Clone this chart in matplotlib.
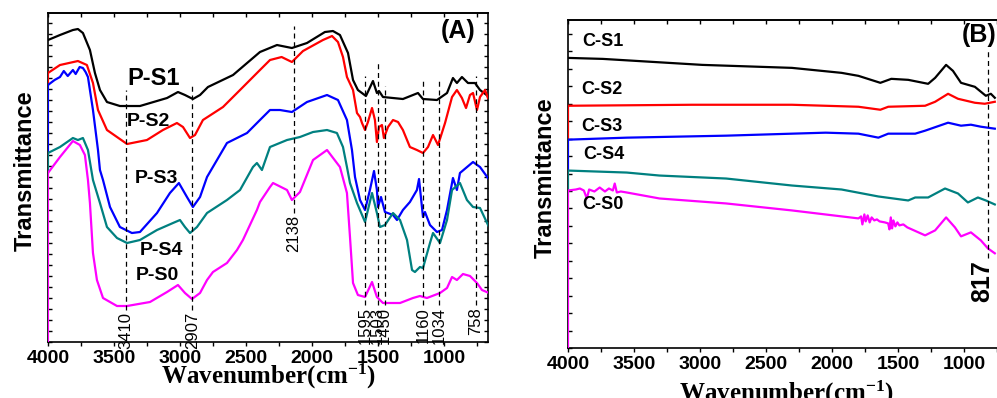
import numpy as np
import matplotlib
matplotlib.use('Agg')
import matplotlib.pyplot as plt
from matplotlib.ticker import MultipleLocator, NullFormatter

plt.rcParams['font.family'] = 'Liberation Sans'
plt.rcParams['font.weight'] = 'bold'
plt.rcParams['mathtext.fontset'] = 'custom'
plt.rcParams['mathtext.rm'] = 'Liberation Serif:bold'
plt.rcParams['mathtext.it'] = 'Liberation Serif:bold'
plt.rcParams['mathtext.bf'] = 'Liberation Serif:bold'

# ---- panel (A) : P-series, transmittance in arbitrary units ----
ps1_wn = [4000, 3909, 3811, 3773, 3735, 3682, 3644, 3606, 3553, 3455, 3303, 3098, 3015, 2962, 2902,
          2848, 2788, 2598, 2394, 2265, 2152, 2038, 1902, 1841, 1788, 1727, 1689, 1652, 1591, 1538,
          1508, 1492, 1462, 1311, 1197, 1159, 1053, 977, 932, 902, 864, 818, 765, 727, 667]
ps1_t = [302, 307, 312, 313, 309, 292, 269, 252, 240, 236, 236, 244, 250, 247, 243,
         247, 255, 267, 290, 297, 294, 299, 310, 311, 307, 289, 262, 252, 246, 261,
         249, 251, 245, 243, 249, 243, 242, 249, 264, 259, 265, 259, 259, 252, 246]

ps2_wn = [4000, 4000, 3909, 3773, 3705, 3659, 3621, 3553, 3401, 3250, 3129, 3023, 2977, 2924, 2886,
          2826, 2674, 2545, 2394, 2318, 2230, 2152, 2068, 1917, 1848, 1803, 1765, 1735, 1689, 1659,
          1636, 1621, 1598, 1576, 1545, 1523, 1508, 1492, 1470, 1455, 1424, 1386, 1348, 1311, 1258,
          1205, 1159, 1121, 1083, 1045, 992, 939, 902, 864, 833, 803, 780, 750, 727, 689, 667]
ps2_t = [257, 269, 277, 281, 277, 259, 232, 212, 198, 202, 212, 219, 215, 204, 207,
         222, 235, 252, 272, 282, 285, 280, 291, 302, 306, 300, 285, 265, 252, 229,
         225, 219, 212, 220, 234, 222, 200, 215, 217, 204, 215, 222, 220, 212, 195,
         192, 189, 195, 207, 197, 219, 245, 252, 244, 234, 247, 249, 232, 245, 252, 244]

ps3_wn = [4000, 4000, 3950, 3909, 3880, 3850, 3811, 3790, 3760, 3735, 3715, 3697, 3659, 3621, 3606,
          3583, 3530, 3455, 3364, 3303, 3174, 3076, 3008, 2947, 2902, 2848, 2795, 2644, 2492, 2394,
          2318, 2242, 2152, 2038, 1886, 1803, 1735, 1697, 1674, 1636, 1598, 1561, 1530, 1508, 1500,
          1477, 1447, 1386, 1356, 1311, 1258, 1205, 1189, 1159, 1144, 1106, 1053, 1015, 977, 932,
          902, 879, 780, 727, 667]
ps3_t = [189, 257, 262, 265, 271, 266, 272, 268, 275, 274, 270, 265, 232, 192, 172,
         162, 135, 115, 109, 110, 129, 149, 159, 145, 135, 145, 165, 199, 209, 222,
         232, 232, 230, 240, 247, 242, 222, 192, 165, 142, 132, 152, 171, 152, 135,
         145, 130, 127, 122, 132, 140, 152, 163, 125, 130, 117, 110, 112, 132, 164,
         152, 169, 180, 175, 164]

ps4_wn = [4000, 4000, 3909, 3811, 3773, 3735, 3697, 3659, 3606, 3553, 3477, 3401, 3303, 3174, 3053,
          3000, 2962, 2924, 2871, 2795, 2644, 2545, 2447, 2417, 2379, 2318, 2189, 2091, 1992, 1886,
          1811, 1765, 1735, 1712, 1659, 1598, 1545, 1508, 1485, 1447, 1386, 1333, 1280, 1242, 1220,
          1182, 1159, 1106, 1083, 1030, 977, 939, 879, 826, 780, 727, 659]
ps4_t = [169, 189, 195, 204, 202, 204, 192, 162, 139, 115, 104, 99, 102, 112, 119,
         122, 115, 109, 115, 129, 142, 152, 175, 179, 172, 195, 202, 205, 210, 212,
         209, 195, 175, 159, 139, 120, 149, 129, 115, 117, 129, 122, 102, 72, 70,
         75, 74, 99, 109, 99, 122, 152, 159, 142, 135, 134, 115]

ps0_wn = [4000, 4000, 3909, 3811, 3758, 3720, 3697, 3682, 3659, 3629, 3583, 3477, 3401, 3227, 3098,
          3015, 2962, 2909, 2848, 2795, 2750, 2644, 2568, 2523, 2417, 2394, 2318, 2295, 2189, 2152,
          2091, 1992, 1886, 1788, 1735, 1712, 1689, 1652, 1598, 1545, 1508, 1462, 1333, 1235, 1182,
          1129, 1030, 977, 939, 902, 856, 803, 750, 712, 659]
ps0_t = [0, 169, 185, 201, 197, 187, 162, 139, 89, 62, 44, 36, 36, 40, 50,
         57, 49, 43, 49, 62, 70, 79, 92, 102, 132, 140, 155, 159, 152, 142,
         150, 182, 192, 175, 149, 105, 59, 47, 45, 60, 45, 39, 39, 44, 46,
         44, 49, 54, 65, 62, 68, 66, 59, 52, 49]

peaks_a = [3410, 2907, 2138, 1595, 1503, 1450, 1160, 1034, 758]
peak_line_top = [252, 257, 316, 266, 282, 256, 261, 261, 266]
peak_line_bot = [32, 32, 129, 37, 37, 37, 37, 37, 37]

# ---- panel (B) : C-series ----
cs1_wn = [4000, 3736, 2983, 2304, 1928, 1800, 1634, 1551, 1423, 1272, 1219, 1136, 1084, 1023, 918, 835, 797, 767]
cs1_t = [291, 290, 284, 281, 276, 273, 266, 270, 269, 265, 271, 284, 278, 266, 262, 253, 255, 251]

cs2_wn = [4000, 4000, 3058, 2304, 1800, 1634, 1574, 1295, 1219, 1121, 1046, 918, 843, 767]
cs2_t = [211, 243, 244, 244, 242, 239, 242, 243, 247, 255, 250, 246, 245, 247]

cs3_wn = [4000, 4000, 3555, 2802, 2304, 2048, 1800, 1649, 1574, 1370, 1295, 1121, 1023, 948, 873, 767]
cs3_t = [178, 209, 211, 213, 215, 216, 215, 211, 215, 215, 218, 226, 223, 224, 222, 220]

cs4_wn = [4000, 4000, 3555, 3307, 2802, 2304, 1928, 1649, 1423, 1370, 1272, 1144, 1046, 971, 895, 835, 767]
cs4_t = [158, 178, 176, 173, 170, 163, 159, 152, 148, 151, 151, 160, 155, 146, 151, 148, 144]

cs0_wn = [4000, 4000, 3940, 3910, 3880, 3857, 3840, 3800, 3760, 3720, 3690, 3660, 3646, 3630, 3600,
          3555, 3307, 2802, 2304, 1800, 1780, 1770, 1755, 1745, 1730, 1715, 1700, 1680, 1660, 1640,
          1600, 1575, 1565, 1555, 1545, 1535, 1520, 1505, 1490, 1460, 1430, 1295, 1219, 1136, 1069,
          1023, 948, 873, 820, 767]
cs0_t = [0, 158, 159, 160, 158, 150, 159, 157, 161, 157, 160, 158, 165, 156, 157,
         156, 150, 145, 138, 130, 132, 124, 134, 127, 133, 126, 131, 128, 129, 127,
         126, 125, 119, 131, 120, 128, 122, 126, 123, 124, 121, 113, 118, 131, 121,
         112, 116, 108, 100, 95]

colors = ['black', '#ff0000', '#0000ff', '#008080', '#ff00ff']

fig = plt.figure(figsize=(9.97, 3.98), dpi=100)
axA = fig.add_axes([0.0481, 0.1407, 0.4413, 0.8266])
axB = fig.add_axes([0.5697, 0.1256, 0.4383, 0.8241])


def style(ax, xmin, ystep, label_y):
    ax.set_xlim(4000, xmin)
    ax.set_ylim(0, 329)
    ax.xaxis.set_major_locator(MultipleLocator(500))
    ax.xaxis.set_minor_locator(MultipleLocator(250))
    ax.tick_params(axis='x', which='both', direction='out', length=3, width=1, pad=3, labelsize=14)
    ax.yaxis.set_major_locator(MultipleLocator(ystep))
    ax.tick_params(axis='y', which='both', direction='in', length=3, width=1,
                   left=True, right=True, labelleft=False)
    sec = ax.secondary_xaxis('top')
    sec.xaxis.set_major_locator(MultipleLocator(250))
    sec.xaxis.set_major_formatter(NullFormatter())
    sec.tick_params(direction='in', length=3, width=1)
    for sp in ax.spines.values():
        sp.set_linewidth(1.2)
    sec.spines['top'].set_linewidth(1.2)
    ax.set_xlabel(r'Wavenumber(cm$^{-1}$)', fontfamily='Liberation Serif', fontsize=18, fontweight='bold')
    ax.xaxis.set_label_coords(0.5, label_y)
    ax.set_ylabel('Transmittance', fontsize=17, fontweight='bold')
    ax.yaxis.set_label_coords(-0.025, 0.52)


style(axA, 667, 11, -0.06)
style(axB, 690, 17.5, -0.095)

for wn, t, c in zip([ps1_wn, ps2_wn, ps3_wn, ps4_wn, ps0_wn],
                    [ps1_t, ps2_t, ps3_t, ps4_t, ps0_t], colors):
    axA.plot(wn, t, color=c, lw=1.6, zorder=3)

for p, top, bot in zip(peaks_a, peak_line_top, peak_line_bot):
    axA.vlines(p, bot, top, colors='black', lw=0.9, linestyles=(0, (4, 3)), zorder=4)
    axA.text(p, bot - 2, str(p), rotation=90, ha='center', va='top',
             fontsize=12, fontweight='normal')

axA.text(3401, 264, 'P-S1', fontsize=17, ha='left', va='center')
axA.text(3401, 221, 'P-S2', fontsize=14, ha='left', va='center')
axA.text(3341, 164, 'P-S3', fontsize=14, ha='left', va='center')
axA.text(3303, 92, 'P-S4', fontsize=14, ha='left', va='center')
axA.text(3333, 67, 'P-S0', fontsize=14, ha='left', va='center')
axA.text(894, 311, '(A)', fontsize=18, ha='center', va='center')

for wn, t, c in zip([cs1_wn, cs2_wn, cs3_wn, cs4_wn, cs0_wn],
                    [cs1_t, cs2_t, cs3_t, cs4_t, cs0_t], colors):
    axB.plot(wn, t, color=c, lw=1.6, zorder=3)

axB.vlines(817, 90, 300, colors='black', lw=0.9, linestyles=(0, (4, 3)), zorder=4)
axB.text(862, 88, '817', rotation=90, ha='center', va='top', fontsize=18)
axB.text(3895, 307, 'C-S1', fontsize=13, ha='left', va='center')
axB.text(3902, 259, 'C-S2', fontsize=13, ha='left', va='center')
axB.text(3902, 222, 'C-S3', fontsize=13, ha='left', va='center')
axB.text(3887, 194, 'C-S4', fontsize=13, ha='left', va='center')
axB.text(3895, 144, 'C-S0', fontsize=13, ha='left', va='center')
axB.text(888, 314, '(B)', fontsize=18, ha='center', va='center')

fig.savefig('out.png', dpi=100)
